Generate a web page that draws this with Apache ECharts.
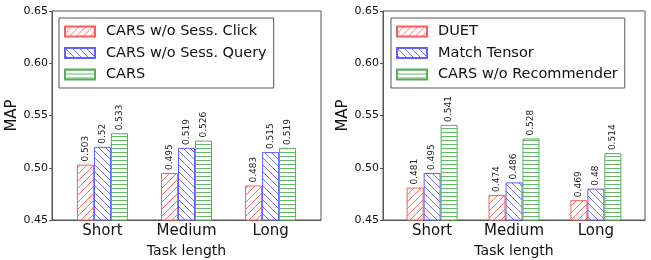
<!DOCTYPE html>
<html>
<head>
<meta charset="utf-8">
<script src="https://cdn.jsdelivr.net/npm/echarts@6/dist/echarts.min.js"></script>
<style>
html,body{margin:0;padding:0;background:#fff;}
#main{width:651px;height:260px;}
</style>
</head>
<body>
<div id="main"></div>
<script>
// data
var categories = ['Short', 'Medium', 'Long'];
var leftNames = ['CARS w/o Sess. Click', 'CARS w/o Sess. Query', 'CARS'];
var leftClick = [0.503, 0.495, 0.483];
var leftQuery = [0.52, 0.519, 0.515];
var leftCars = [0.533, 0.526, 0.519];
var rightNames = ['DUET', 'Match Tensor', 'CARS w/o Recommender'];
var rightDuet = [0.481, 0.474, 0.469];
var rightMatch = [0.495, 0.486, 0.48];
var rightNoRec = [0.541, 0.528, 0.514];

var RED = '#ff5a5a', BLUE = '#5f5fff', GREEN = '#55b055';
var FONT = 'DejaVu Sans';

//生成填充纹理
function hatch(color, type) {
	var s = type == 'h' ? 4 : 7;
	var c = document.createElement('canvas');
	c.width = s; c.height = s;
	var g = c.getContext('2d');
	g.fillStyle = '#fff';
	g.fillRect(0, 0, s, s);
	g.strokeStyle = color;
	g.lineWidth = 0.9;
	g.beginPath();
	if (type == '/') {
		g.moveTo(0, s); g.lineTo(s, 0);
		g.moveTo(-1, 1); g.lineTo(1, -1);
		g.moveTo(s - 1, s + 1); g.lineTo(s + 1, s - 1);
	} else if (type == '\\') {
		g.moveTo(0, 0); g.lineTo(s, s);
		g.moveTo(-1, s - 1); g.lineTo(1, s + 1);
		g.moveTo(s - 1, -1); g.lineTo(s + 1, 1);
	} else {
		g.moveTo(0, 0.5); g.lineTo(s, 0.5);
	}
	g.stroke();
	return { image: c, repeat: 'repeat' };
}

function pts(arr) {
	return arr.map(function (v, i) { return [i, v]; });
}

function barSeries(name, arr, idx, color, type) {
	return {
		type: 'bar',
		name: name,
		xAxisIndex: idx,
		yAxisIndex: idx,
		data: pts(arr),
		barWidth: 17,
		barGap: '0%',
		itemStyle: { color: hatch(color, type), borderColor: color, borderWidth: 1 },
		label: {
			show: true,
			position: 'top',
			rotate: 90,
			align: 'left',
			verticalAlign: 'middle',
			distance: 3,
			fontFamily: FONT,
			fontSize: 9,
			color: '#222',
			formatter: function (p) { return String(p.value[1]); }
		}
	};
}

function xAxis(idx) {
	return {
		type: 'value',
		gridIndex: idx,
		min: -0.6,
		max: 2.6,
		splitLine: { show: false },
		axisLine: { show: true, onZero: false, lineStyle: { color: '#555' } },
		axisTick: { show: false },
		axisLabel: {
			customValues: [0, 1, 2],
			formatter: function (v) { return categories[Math.round(v)]; },
			fontFamily: FONT, fontSize: 15, color: '#111', margin: 4
		},
		name: 'Task length',
		nameLocation: 'middle',
		nameGap: 23,
		nameTextStyle: { fontFamily: FONT, fontSize: 14, color: '#111' }
	};
}

function yAxis(idx) {
	return {
		type: 'value',
		gridIndex: idx,
		min: 0.45,
		max: 0.65,
		interval: 0.05,
		splitLine: { show: false },
		axisLine: { show: true, onZero: false, lineStyle: { color: '#555' } },
		axisTick: { show: true, length: 3, lineStyle: { color: '#555' } },
		axisLabel: {
			formatter: function (v) { return v.toFixed(2); },
			fontFamily: FONT, fontSize: 11, color: '#111', margin: 4
		},
		name: 'MAP',
		nameLocation: 'middle',
		nameGap: 28,
		nameTextStyle: { fontFamily: FONT, fontSize: 15, color: '#111' }
	};
}

function legend(left, names) {
	return {
		left: left,
		top: 18,
		orient: 'vertical',
		data: names,
		icon: 'rect',
		itemWidth: 30,
		itemHeight: 10,
		itemGap: 6.5,
		padding: [6, 7, 6, 5],
		borderColor: '#555',
		borderWidth: 1,
		backgroundColor: '#fff',
		textStyle: { fontFamily: FONT, fontSize: 14.5, color: '#111', padding: [0, 0, 0, 6] }
	};
}

var myChart = echarts.init(document.getElementById('main'));
myChart.setOption({
	animation: false,
	grid: [
		{ left: 52, right: 330, top: 11, bottom: 40, outerBoundsMode: 'none', show: true, borderColor: '#555', borderWidth: 1 },
		{ left: 383, right: 6, top: 11, bottom: 40, outerBoundsMode: 'none', show: true, borderColor: '#555', borderWidth: 1 }
	],
	legend: [legend(59, leftNames), legend(391, rightNames)],
	xAxis: [xAxis(0), xAxis(1)],
	yAxis: [yAxis(0), yAxis(1)],
	series: [
		barSeries(leftNames[0], leftClick, 0, RED, '/'),
		barSeries(leftNames[1], leftQuery, 0, BLUE, '\\'),
		barSeries(leftNames[2], leftCars, 0, GREEN, 'h'),
		barSeries(rightNames[0], rightDuet, 1, RED, '/'),
		barSeries(rightNames[1], rightMatch, 1, BLUE, '\\'),
		barSeries(rightNames[2], rightNoRec, 1, GREEN, 'h')
	]
});
</script>
</body>
</html>
